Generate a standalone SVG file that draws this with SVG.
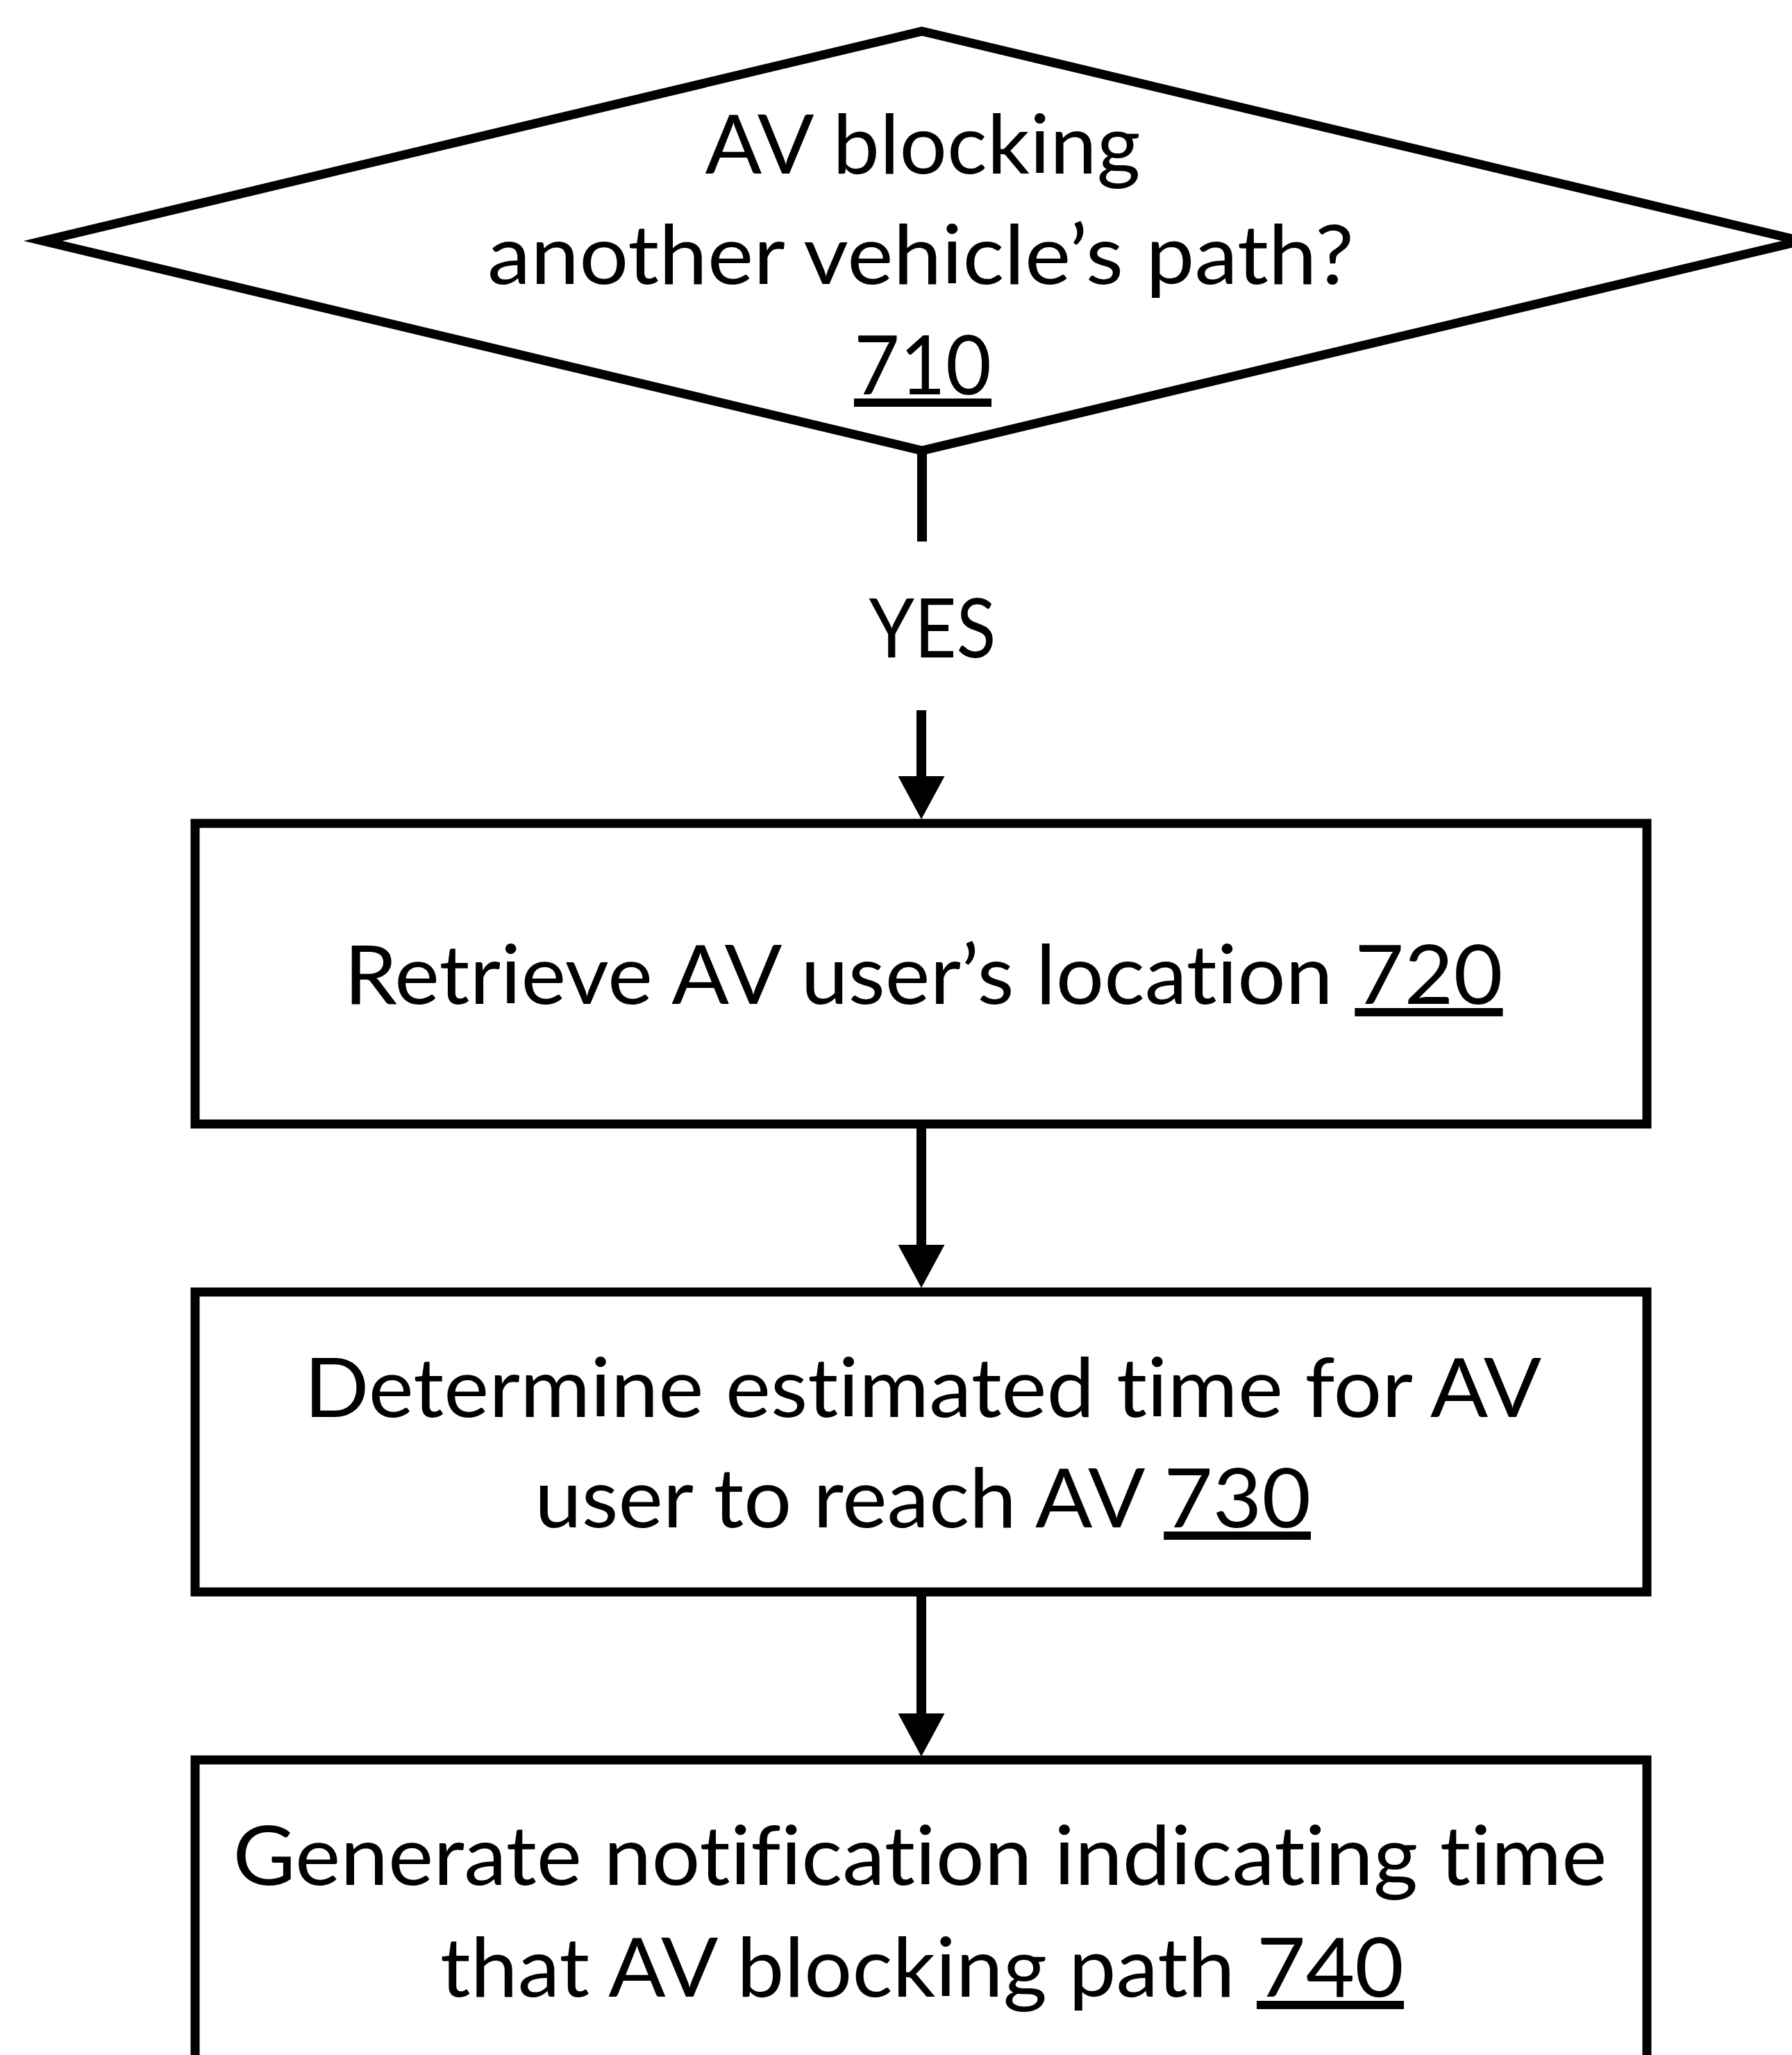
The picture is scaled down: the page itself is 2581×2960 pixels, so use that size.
<svg xmlns="http://www.w3.org/2000/svg" width="2581" height="2960" viewBox="0 0 2581 2960">
<style>
  .shape { fill: #ffffff; stroke: #000000; stroke-width: 13; stroke-miterlimit: 10; }
  .conn { stroke: #000000; stroke-width: 14; fill: none; }
  .lbl { font-family: "Lato", "Open Sans", "Liberation Sans", sans-serif; font-size: 119px; fill: #000000; text-anchor: middle; font-variant-ligatures: none; font-feature-settings: "liga" 0, "dlig" 0, "clig" 0; }
  .ref { text-decoration: underline; }
</style>
<defs>
  <marker id="arrow" markerUnits="userSpaceOnUse" viewBox="0 0 62 67" refX="0" refY="33.5" markerWidth="62" markerHeight="67" orient="auto">
    <path d="M0,0 L62,33.5 L0,67 Z" fill="#000000"/>
  </marker>
</defs>
<rect x="0" y="0" width="2581" height="2960" fill="#ffffff"/>

<g id="connectors">
  <line class="conn" x1="1328" y1="649" x2="1328" y2="780"/>
  <line class="conn" x1="1327" y1="1023" x2="1327" y2="1118" marker-end="url(#arrow)"/>
  <line class="conn" x1="1327" y1="1619" x2="1327" y2="1793" marker-end="url(#arrow)"/>
  <line class="conn" x1="1327" y1="2293" x2="1327" y2="2468" marker-end="url(#arrow)"/>
  <text class="lbl" x="1343" y="947" textLength="183" lengthAdjust="spacingAndGlyphs">YES</text>
</g>

<g id="node710">
  <polygon class="shape" points="1328,45 2594,347 1328,649 62,347"/>
  <text class="lbl" x="1329" y="250" textLength="627" lengthAdjust="spacingAndGlyphs">AV blocking</text>
  <text class="lbl" x="1326" y="409" textLength="1248" lengthAdjust="spacingAndGlyphs">another vehicle’s path?</text>
  <text class="lbl" x="1329" y="568" textLength="198" lengthAdjust="spacingAndGlyphs"><tspan class="ref">710</tspan></text>
</g>

<g id="node720">
  <rect class="shape" x="281" y="1186" width="2091" height="433"/>
  <text class="lbl" x="1330" y="1446" textLength="1669" lengthAdjust="spacingAndGlyphs">Retrieve AV user’s location <tspan class="ref">720</tspan></text>
</g>

<g id="node730">
  <rect class="shape" x="281" y="1861" width="2091" height="432"/>
  <text class="lbl" x="1329" y="2041" textLength="1782" lengthAdjust="spacingAndGlyphs">Determine estimated time for AV</text>
  <text class="lbl" x="1329" y="2200" textLength="1118" lengthAdjust="spacingAndGlyphs">user to reach AV <tspan class="ref">730</tspan></text>
</g>

<g id="node740">
  <rect class="shape" x="281" y="2535" width="2091" height="500"/>
  <text class="lbl" x="1325" y="2715" textLength="1979" lengthAdjust="spacingAndGlyphs">Generate notification indicating time</text>
  <text class="lbl" x="1328" y="2876" textLength="1388" lengthAdjust="spacingAndGlyphs">that AV blocking path <tspan class="ref">740</tspan></text>
</g>
</svg>
